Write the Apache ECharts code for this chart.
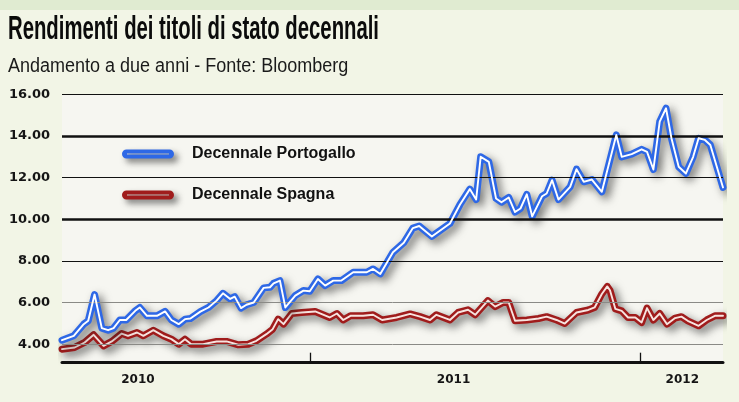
<!DOCTYPE html>
<html>
<head>
<meta charset="utf-8">
<script src="https://cdn.jsdelivr.net/npm/echarts@6/dist/echarts.min.js"></script>
<style>
html,body{margin:0;padding:0;background:#f2f5e6;}
#c{width:739px;height:402px;}
</style>
</head>
<body>
<div id="c"></div>
<script>
// ---- data ----
var ptName = 'Decennale Portogallo';
var esName = 'Decennale Spagna';

var ptDates = ['2010-04-01','2010-04-14','2010-04-25','2010-04-30','2010-05-07','2010-05-15','2010-05-22','2010-05-28','2010-06-04','2010-06-11','2010-06-21','2010-06-26','2010-07-04','2010-07-15','2010-07-24','2010-07-31','2010-08-08','2010-08-15','2010-08-21','2010-09-01','2010-09-10','2010-09-19','2010-09-26','2010-10-04','2010-10-09','2010-10-16','2010-10-22','2010-10-30','2010-11-10','2010-11-17','2010-11-21','2010-11-28','2010-12-04','2010-12-15','2010-12-24','2010-12-31','2011-01-09','2011-01-17','2011-01-26','2011-02-04','2011-02-17','2011-02-25','2011-03-04','2011-03-11','2011-03-19','2011-04-02','2011-04-14','2011-04-24','2011-05-01','2011-05-15','2011-06-04','2011-06-15','2011-06-26','2011-07-03','2011-07-08','2011-07-17','2011-07-25','2011-07-31','2011-08-08','2011-08-15','2011-08-21','2011-08-28','2011-09-03','2011-09-14','2011-09-19','2011-09-25','2011-10-02','2011-10-15','2011-10-22','2011-10-30','2011-11-08','2011-11-19','2011-12-05','2011-12-11','2011-12-22','2012-01-02','2012-01-08','2012-01-15','2012-01-22','2012-01-29','2012-02-04','2012-02-12','2012-02-20','2012-02-28','2012-03-05','2012-03-12','2012-03-18','2012-04-01'];
var ptValues = [4.20,4.41,4.97,5.13,6.39,4.78,4.68,4.78,5.17,5.17,5.61,5.77,5.37,5.37,5.58,5.17,4.97,5.21,5.24,5.57,5.77,6.10,6.45,6.18,6.29,5.74,5.90,6.01,6.71,6.74,6.93,7.06,5.77,6.34,6.58,6.55,7.14,6.82,7.06,7.06,7.46,7.46,7.46,7.62,7.38,8.42,8.88,9.58,9.68,9.18,9.80,10.70,11.45,10.95,13.00,12.76,11.00,10.82,11.05,10.35,10.52,11.20,10.14,11.11,11.24,11.88,10.95,11.56,12.41,11.80,11.91,11.32,14.05,13.00,13.13,13.36,13.24,12.39,14.69,15.33,13.89,12.52,12.20,13.00,13.89,13.81,13.57,11.53];

var esDates = ['2010-04-01','2010-04-15','2010-04-26','2010-05-06','2010-05-17','2010-05-26','2010-06-06','2010-06-13','2010-06-23','2010-06-30','2010-07-11','2010-07-22','2010-07-31','2010-08-08','2010-08-15','2010-08-22','2010-09-04','2010-09-19','2010-09-30','2010-10-13','2010-10-24','2010-11-02','2010-11-13','2010-11-20','2010-11-26','2010-12-02','2010-12-11','2010-12-22','2011-01-06','2011-01-22','2011-01-30','2011-02-06','2011-02-14','2011-02-28','2011-03-11','2011-03-21','2011-04-06','2011-04-21','2011-05-02','2011-05-13','2011-05-20','2011-06-04','2011-06-13','2011-06-24','2011-07-02','2011-07-16','2011-07-24','2011-08-02','2011-08-08','2011-08-15','2011-08-28','2011-09-10','2011-09-19','2011-09-30','2011-10-09','2011-10-22','2011-11-04','2011-11-11','2011-11-19','2011-11-25','2011-11-28','2011-12-04','2011-12-11','2011-12-18','2011-12-26','2012-01-02','2012-01-08','2012-01-15','2012-01-22','2012-01-30','2012-02-08','2012-02-15','2012-02-22','2012-03-05','2012-03-14','2012-03-23','2012-04-01'];
var esValues = [3.77,3.85,4.09,4.46,3.93,4.14,4.52,4.41,4.57,4.41,4.68,4.41,4.25,4.01,4.25,4.01,4.01,4.14,4.14,3.98,4.01,4.17,4.49,4.73,5.21,4.97,5.48,5.53,5.58,5.29,5.48,5.17,5.37,5.37,5.42,5.17,5.29,5.46,5.33,5.17,5.42,5.17,5.53,5.66,5.42,6.10,5.81,6.01,6.01,5.13,5.17,5.24,5.33,5.17,5.00,5.53,5.65,5.77,6.42,6.78,6.60,5.70,5.61,5.29,5.29,5.05,5.74,5.17,5.48,4.97,5.26,5.33,5.13,4.89,5.17,5.37,5.37];

var yTicks = [4, 6, 8, 10, 12, 14, 16];
var yearLabelDates = ['2010-06-24', '2011-06-08', '2012-02-16'];
var yearTickDates = ['2011-01-01', '2012-01-01'];
var xStart = '2010-04-01', xEnd = '2012-04-01';

// ---- helpers ----
function ts(s){ var p = s.split('-'); return Date.UTC(+p[0], +p[1]-1, +p[2]); }
function pairs(d, v){ return d.map(function(x,i){ return [ts(x), v[i]]; }); }

var ptData = pairs(ptDates, ptValues);
var esData = pairs(esDates, esValues);

var gridStyles = {
  16: {color:'#111', width:1.2},
  14: {color:'#111', width:2.6},
  12: {color:'#111', width:1.2},
  10: {color:'#111', width:2.6},
  8:  {color:'#111', width:1.2},
  6:  {color:'#8a8a86', width:1},
  4:  {color:'#8a8a86', width:1}
};
var gridLines = yTicks.map(function(t){
  return {yAxis: t, lineStyle: {color: gridStyles[t].color, width: gridStyles[t].width, type:'solid'}};
});

var BLUE = '#2e68e6', RED = '#a01c1c';
var shadow = {shadowColor:'rgba(30,30,30,0.6)', shadowBlur:8, shadowOffsetX:4, shadowOffsetY:4};

function outer(name, data, color, z){
  return {
    name: name, type:'line', data: data, showSymbol:false, symbol:'none', z: z,
    itemStyle:{color: color},
    lineStyle: Object.assign({color: color, width: 7, join:'round', cap:'round'}, shadow),
    animation:false, silent:true
  };
}
function inner(name, data, color, z){
  return {
    name: name, type:'line', data: data, showSymbol:false, symbol:'none', z: z,
    lineStyle:{color: color, width: 1.9, join:'round', cap:'round'},
    animation:false, silent:true
  };
}

var chart = echarts.init(document.getElementById('c'), null, {renderer:'canvas'});
chart.setOption({
  backgroundColor:'#f2f5e6',
  animation:false,
  graphic:[
    {type:'rect', left:0, top:0, shape:{width:739, height:10}, style:{fill:'#e0ebd1'}, z:0, silent:true},
    {type:'text', left:8, top:13, scaleX:0.615, originX:0, z:10,
      style:{text:'Rendimenti dei titoli di stato decennali', fill:'#0b0b0b',
        font:'bold 33px "Liberation Sans", sans-serif'}},
    {type:'text', left:8, top:56, scaleX:0.9, originX:0, z:10,
      style:{text:'Andamento a due anni - Fonte: Bloomberg', fill:'#1a1a1a',
        font:'normal 20px "Liberation Sans", sans-serif'}}
  ],
  legend:{
    data:[ptName, esName],
    orient:'vertical', left:117, top:138, itemGap:19,
    itemWidth:52, itemHeight:9,
    icon:'path://M4.5,0 L47.5,0 A4.5,4.5 0 0 1 47.5,9 L4.5,9 A4.5,4.5 0 0 1 4.5,0 Z M5,3.9 L5,5.1 L47,5.1 L47,3.9 Z',
    itemStyle:{shadowColor:'rgba(30,30,30,0.6)', shadowBlur:6, shadowOffsetX:4, shadowOffsetY:4, borderWidth:0},
    textStyle:{fontFamily:'"Liberation Sans", sans-serif', fontWeight:'bold', fontSize:16, color:'#111', lineHeight:22, padding:[0,0,0,13]},
    selectedMode:false
  },
  grid:{left:62, right:16, top:94.3, bottom:39.3, show:true, backgroundColor:'#f6f6f1', borderWidth:0, containLabel:false},
  xAxis:{
    type:'value', min: ts(xStart), max: ts(xEnd),
    axisLine:{show:true, lineStyle:{color:'#111', width:3}},
    axisTick:{show:true, inside:true, length:10, lineStyle:{color:'#111', width:1.3}, customValues: yearTickDates.map(ts)},
    axisLabel:{show:true, margin:11, customValues: yearLabelDates.map(ts),
      formatter:function(v){ return String(new Date(v).getUTCFullYear()); },
      fontFamily:'"DejaVu Sans", sans-serif', fontWeight:'bold', fontSize:12, color:'#151515'},
    splitLine:{show:false}
  },
  yAxis:{
    type:'value', min:3.12, max:16,
    axisLine:{show:false}, axisTick:{show:false}, splitLine:{show:false},
    axisLabel:{show:true, margin:12, customValues: yTicks,
      formatter:function(v){ return v.toFixed(2); },
      fontFamily:'"DejaVu Sans", sans-serif', fontWeight:'bold', fontSize:13, color:'#151515'}
  },
  series:[
    {name:'grid', type:'line', data: ptData, symbol:'none', z:1, lineStyle:{opacity:0, width:0}, silent:true, animation:false,
      markLine:{silent:true, symbol:['none','none'], label:{show:false}, animation:false, data: gridLines}},
    outer(esName, esData, RED, 2),
    inner(esName + ' ', esData, '#f7e4e0', 3),
    outer(ptName, ptData, BLUE, 4),
    inner(ptName + ' ', ptData, '#ffffff', 5)
  ]
});
</script>
</body>
</html>
